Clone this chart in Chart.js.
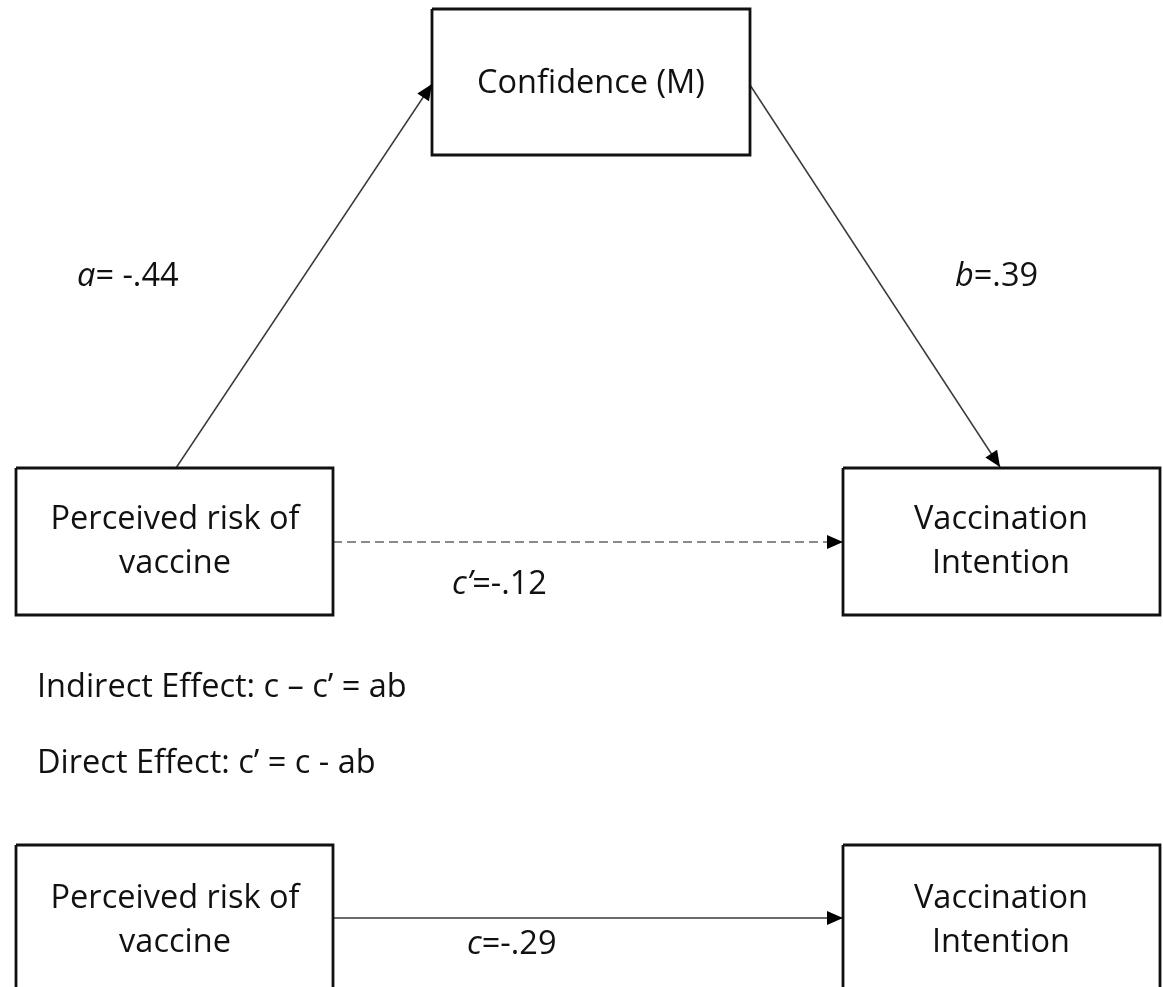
<!DOCTYPE html>
<html>
<head>
<meta charset="utf-8">
<script src="https://cdn.jsdelivr.net/npm/chart.js@4/dist/chart.umd.min.js"></script>
<style>
  html, body { margin: 0; padding: 0; background: #fff; }
  #wrap { width: 1163px; height: 987px; }
</style>
</head>
<body>
<div id="wrap"><canvas id="diagram"></canvas></div>
<script>
// variables in the mediation model
const nodeNames = ["Confidence (M)", "Perceived risk of\nvaccine", "Vaccination\nIntention", "Perceived risk of\nvaccine", "Vaccination\nIntention"];

// path coefficients
const pathLetters = ["a", "b", "c\u2019", "c"];
const pathValues = [-0.44, 0.39, -0.12, -0.29];
const pathSeparators = ["= ", "=", "=", "="];

const notes = ["Indirect Effect: c \u2013 c\u2019 = ab", "Direct Effect: c\u2019 = c - ab"];

// layout in page pixels (x, y from top-left)
const boxes = [
    { x1: 432, y1: 9, x2: 750, y2: 155 },
    { x1: 16, y1: 468, x2: 333, y2: 615 },
    { x1: 843, y1: 468, x2: 1160, y2: 615 },
    { x1: 16, y1: 845, x2: 333, y2: 1000 },
    { x1: 843, y1: 845, x2: 1160, y2: 1000 }
];
const textCenters = [[591, 84], [175, 542], [1001, 542], [175, 921], [1001, 921]];
const arrows = [
    { from: [176, 468], to: [432, 84], dashed: false },
    { from: [750, 85], to: [1000, 467], dashed: false },
    { from: [333, 542], to: [843, 542], dashed: true },
    { from: [333, 918], to: [843, 918], dashed: false }
];
const labelPos = [[77, 277], [955, 277], [452, 585], [467, 945]];
const notePos = [[37, 688], [37, 764]];

const FONT = '"Open Sans", "Noto Sans", sans-serif';

function fmt(v) {
    return (v < 0 ? "-" : "") + Math.abs(v).toFixed(2).replace(/^0/, "");
}

function boxPoints(b) {
    return [
        { x: b.x1, y: b.y1 }, { x: b.x2, y: b.y1 },
        { x: b.x2, y: b.y2 }, { x: b.x1, y: b.y2 }, { x: b.x1, y: b.y1 }
    ];
}

const datasets = [];
boxes.forEach(b => {
    datasets.push({
        data: boxPoints(b),
        borderColor: "#111",
        borderWidth: 2.8,
        pointRadius: 0,
        showLine: true,
        fill: false,
        tension: 0
    });
});
arrows.forEach(a => {
    datasets.push({
        data: [{ x: a.from[0], y: a.from[1] }, { x: a.to[0], y: a.to[1] }],
        borderColor: a.dashed ? "#8a8a8a" : "#3a3a3a",
        borderWidth: a.dashed ? 1.8 : 1.5,
        borderDash: a.dashed ? [9, 5] : [],
        pointRadius: 0,
        showLine: true,
        fill: false
    });
});

const diagramText = {
    id: "diagramText",
    afterDatasetsDraw(chart) {
        const c = chart.ctx;
        const xs = chart.scales.x;
        const ys = chart.scales.y;
        const px = v => xs.getPixelForValue(v);
        const py = v => ys.getPixelForValue(v);

        c.save();

        // arrowheads
        c.fillStyle = "#000";
        arrows.forEach(a => {
            const x1 = px(a.from[0]), y1 = py(a.from[1]);
            const x2 = px(a.to[0]), y2 = py(a.to[1]);
            const ang = Math.atan2(y2 - y1, x2 - x1);
            const len = 16, half = 7;
            c.beginPath();
            c.moveTo(x2, y2);
            c.lineTo(x2 - len * Math.cos(ang) + half * Math.sin(ang), y2 - len * Math.sin(ang) - half * Math.cos(ang));
            c.lineTo(x2 - len * Math.cos(ang) - half * Math.sin(ang), y2 - len * Math.sin(ang) + half * Math.cos(ang));
            c.closePath();
            c.fill();
        });

        // box labels
        c.fillStyle = "#111";
        c.textAlign = "center";
        c.textBaseline = "middle";
        c.font = "32.5px " + FONT;
        nodeNames.forEach((name, i) => {
            const lines = name.split("\n");
            const lh = 44;
            const cx = px(textCenters[i][0]);
            const cy = py(textCenters[i][1]);
            lines.forEach((ln, j) => {
                c.fillText(ln, cx, cy + (j - (lines.length - 1) / 2) * lh);
            });
        });

        // path coefficients: italic letter, then value
        c.textAlign = "left";
        pathLetters.forEach((letter, i) => {
            let x = px(labelPos[i][0]);
            const y = py(labelPos[i][1]);
            c.font = "italic 32.5px " + FONT;
            c.fillText(letter, x, y);
            x += c.measureText(letter).width;
            c.font = "32.5px " + FONT;
            c.fillText(pathSeparators[i] + fmt(pathValues[i]), x, y);
        });

        // notes
        c.font = "32.5px " + FONT;
        notes.forEach((t, i) => {
            c.fillText(t, px(notePos[i][0]), py(notePos[i][1]));
        });

        c.restore();
    }
};

new Chart(document.getElementById("diagram"), {
    type: "scatter",
    data: { datasets },
    options: {
        responsive: true,
        maintainAspectRatio: false,
        animation: false,
        layout: { padding: 0 },
        plugins: { legend: { display: false }, tooltip: { enabled: false } },
        scales: {
            x: { type: "linear", min: 0, max: 1163, display: false },
            y: { type: "linear", min: 0, max: 987, reverse: true, display: false }
        },
        events: []
    },
    plugins: [diagramText]
});
</script>
</body>
</html>
